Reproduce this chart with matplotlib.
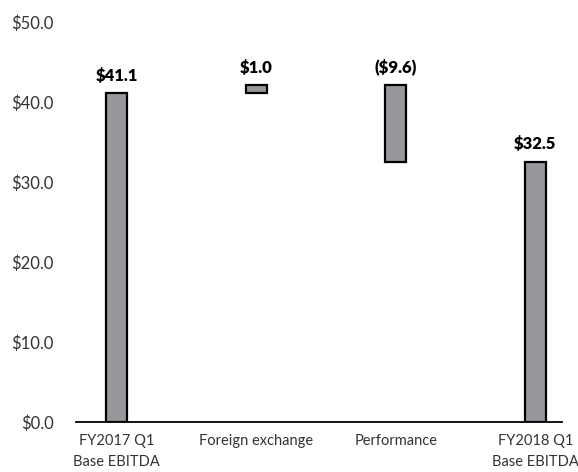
import matplotlib
matplotlib.use('Agg')
import matplotlib.pyplot as plt
import numpy as np

plt.rcParams['font.family'] = ['Lato', 'DejaVu Sans']

# Waterfall data
categories = ['FY2017 Q1\nBase EBITDA', 'Foreign exchange', 'Performance', 'FY2018 Q1\nBase EBITDA']
changes = [41.1, 1.0, -9.6, 32.5]
is_total = [True, False, False, True]
labels = ['$41.1', '$1.0', '($9.6)', '$32.5']

bottoms, heights = [], []
running = 0.0
for val, total in zip(changes, is_total):
    if total:
        bottoms.append(0.0)
        heights.append(val)
        running = val
    else:
        bottoms.append(running if val >= 0 else running + val)
        heights.append(abs(val))
        running += val

fig = plt.figure(figsize=(5.78, 4.72), dpi=100)
ax = fig.add_axes([0.1315, 0.106, 0.8405, 0.847])

x = np.arange(len(categories))
ax.bar(x, heights, bottom=bottoms, width=0.15, color='#98989c',
       edgecolor='black', linewidth=1.6, zorder=3)

for xi, b, h, lab in zip(x, bottoms, heights, labels):
    ax.annotate(lab, (xi, b + h), xytext=(0, 7), textcoords='offset points',
                ha='center', va='bottom', fontsize=12, fontweight='heavy',
                color='black')

ax.set_ylim(0, 50)
ax.set_xlim(-0.29, 3.19)
ax.set_yticks(np.arange(0, 51, 10))
ax.set_yticklabels([f'${v:.1f}' for v in np.arange(0, 51, 10)])
ax.set_xticks(x)
ax.set_xticklabels(categories, va='top', linespacing=1.6)

ax.tick_params(axis='y', length=0, pad=16, labelsize=12, labelcolor='#333333')
ax.tick_params(axis='x', length=0, pad=9, labelsize=10.5, labelcolor='#333333')

for s in ['left', 'right', 'top']:
    ax.spines[s].set_visible(False)
ax.spines['bottom'].set_linewidth(1.3)
ax.spines['bottom'].set_color('black')

plt.savefig('out.png', dpi=100)
plt.close()
